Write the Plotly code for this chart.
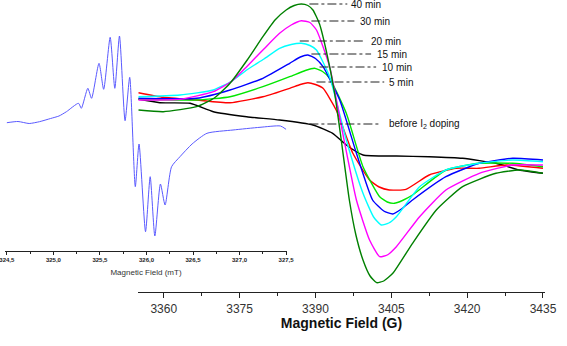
import plotly.graph_objects as go

W, H = 567, 346

# ---------------- data (main spectra, field in G, signal in a.u.) ----------------
x_40 = [3355.0, 3359.9, 3366.5, 3370.0, 3373.1, 3376.5, 3379.6, 3382.0, 3384.2, 3385.8, 3387.2, 3388.5, 3389.5,
        3390.8, 3392.1, 3393.8, 3395.1, 3396.7, 3398.0, 3399.4, 3400.8, 3402.1, 3403.5, 3405.3, 3409.2,
        3413.9, 3419.1, 3425.7, 3430.3, 3435.0]
y_40 = [50, 48.3, 53.3, 62, 76.7, 100, 123.3, 140, 150, 154.5, 156, 154.5, 150,
        136, 110, 66.7, 20, -40, -75, -100, -116, -122.7, -121, -113.3, -83.3,
        -50, -26.7, -13.3, -10, -13.3]

x_30 = [3355.0, 3363.2, 3369.8, 3373.5, 3376.4, 3379.8, 3382.9, 3385.2, 3387.2, 3388.9, 3390.2, 3392.8,
        3395.4, 3398.1, 3400.7, 3402.7, 3404.2, 3406.0, 3410.6, 3415.8, 3422.4, 3429.0, 3435.0]
y_30 = [60, 60.7, 68.3, 79, 93.3, 111, 126.7, 135, 139.3, 137.5, 130, 93.3,
        26.7, -40, -80, -96.7, -95, -86.7, -56.7, -30, -13.3, -5, -5]

x_20 = [3355.0, 3363.2, 3369.8, 3373.5, 3376.4, 3379.8, 3382.9, 3385.2, 3387.2, 3388.9, 3390.2, 3392.8,
        3396.1, 3399.4, 3401.5, 3403.0, 3404.5, 3406.0, 3410.6, 3415.8, 3422.4, 3429.0, 3435.0]
y_20 = [63.3, 65, 70, 79, 90, 101, 111.7, 115.5, 116.7, 114.5, 110, 83.3,
        20, -33.3, -57, -65, -63, -56.7, -26.7, -10, -3.3, 0, -1.7]

x_15 = [3355.0, 3366.5, 3373.1, 3379.6, 3384.9, 3387.0, 3388.5, 3390.0, 3391.5, 3394.8, 3398.1, 3401.3,
        3403.5, 3405.3, 3407.0, 3409.2, 3415.8, 3422.4, 3429.0, 3435.0]
y_15 = [61.7, 61.7, 70, 81.7, 96.7, 103, 105, 101.5, 93.3, 60, 6.7, -40,
        -51, -54, -49, -40, -16.7, -3.3, 1.7, 0]

x_10 = [3355.0, 3366.5, 3373.1, 3379.6, 3384.9, 3388.0, 3389.8, 3391.4, 3392.8, 3396.1, 3399.4, 3402.7,
        3404.2, 3405.6, 3407.2, 3409.2, 3415.8, 3422.4, 3429.0, 3435.0]
y_10 = [60.7, 60, 63.3, 73.3, 83.3, 89.5, 91.7, 88.5, 81.7, 46.7, -6.7, -36.7,
        -42, -43.3, -40.5, -35, -10, -3.3, -3.3, -6.7]

x_5 = [3355.0, 3359.9, 3366.5, 3373.1, 3379.6, 3384.9, 3387.0, 3388.5, 3390.0, 3391.5, 3394.1, 3397.4,
       3400.7, 3402.6, 3404.6, 3407.9, 3412.5, 3417.8, 3422.4, 3427.7, 3435.0]
y_5 = [67.3, 62.7, 60, 57.3, 63.3, 71.7, 75.5, 77.3, 75.5, 71.7, 50, 6.7,
       -20, -27, -30, -29.3, -15, -8.3, -8.3, -5, -8.3]

x_0 = [3355.0, 3359.2, 3365.2, 3369.8, 3376.4, 3382.9, 3389.5, 3393.4, 3396.1, 3399.4, 3406.0,
       3412.5, 3419.1, 3425.7, 3430.3, 3435.0]
y_0 = [61, 57.3, 56.7, 48.3, 43.3, 40, 35, 26.7, 15, 5, 4,
       3.3, 1.7, -3.3, -10, -13.3]

# ---------------- inset spectrum (field in mT) ----------------
x_in = [324.50, 324.62, 324.74, 324.85, 324.97, 325.06, 325.14, 325.27, 325.30, 325.37, 325.41,
        325.49, 325.54, 325.61, 325.66, 325.71, 325.77, 325.82, 325.88, 325.92, 325.99,
        326.04, 326.09, 326.15, 326.20, 326.27, 326.36, 326.49, 326.65, 326.93, 327.22,
        327.44, 327.50]
y_in = [37.3, 38.5, 36.5, 38.3, 41.5, 44.0, 48.3, 56.7, 51.7, 71.7, 61.7,
        96.7, 70.7, 122.7, 71.7, 124, 39.3, 82.7, -26.7, 16, -71.7,
        -16.7, -76, -24, -45, -6.7, 3.3, 16, 26.7, 30, 32.7,
        34, 30.7]

main_ticks = [3360, 3375, 3390, 3405, 3420, 3435]
inset_ticks = [324.5, 325.0, 325.5, 326.0, 326.5, 327.0, 327.5]
inset_ticktext = ["<b>324,5</b>", "<b>325,0</b>", "<b>325,5</b>", "<b>326,0</b>",
                  "<b>326,5</b>", "<b>327,0</b>", "<b>327,5</b>"]

labels = ["40 min", "30 min", "20 min", "15 min", "10 min", "5 min", "before I<sub>2</sub> doping"]
label_y = [156, 139, 119, 106, 93, 78, 36]
lead_x0 = [3388.8, 3389.2, 3386.9, 3389.2, 3390.8, 3390.2, 3388.8]
lead_x1 = [3396.3, 3397.7, 3399.7, 3401.0, 3402.0, 3403.6, 3402.7]
text_x = [3396.7, 3398.5, 3400.5, 3401.7, 3402.7, 3404.2, 3404.2]

fig = go.Figure()

fig.add_trace(go.Scatter(x=x_in, y=y_in, xaxis="x2", yaxis="y2", mode="lines",
                         line=dict(color="#5a5aff", width=1, shape="spline", smoothing=0.6),
                         showlegend=False))

series = [
    (x_0, y_0, "#000000"),
    (x_5, y_5, "#ff0000"),
    (x_10, y_10, "#00e600"),
    (x_15, y_15, "#0000ff"),
    (x_20, y_20, "#00ffff"),
    (x_30, y_30, "#ff00ff"),
    (x_40, y_40, "#008000"),
]
for xs, ys, c in series:
    fig.add_trace(go.Scatter(x=xs, y=ys, xaxis="x", yaxis="y", mode="lines",
                             line=dict(color=c, width=1.4, shape="spline", smoothing=0.5),
                             showlegend=False))

for lab, ly, x0, x1, tx in zip(labels, label_y, lead_x0, lead_x1, text_x):
    fig.add_shape(type="line", xref="x", yref="y", x0=x0, x1=x1, y0=ly, y1=ly,
                  line=dict(color="#222", width=1, dash="dashdot"))
    fig.add_annotation(x=tx, y=ly, xref="x", yref="y", text=lab, showarrow=False,
                       xanchor="left", yanchor="middle",
                       font=dict(family="Liberation Sans, Arial", size=10, color="#111"))

# main axis baseline at 292 px from top, inset axis baseline at 251 px from top
main_bottom = 1 - 292 / H
inset_bottom = 1 - 251 / H

fig.update_layout(
    width=W, height=H,
    margin=dict(l=0, r=0, t=0, b=0),
    paper_bgcolor="white", plot_bgcolor="rgba(0,0,0,0)",
    xaxis=dict(domain=[138 / W, 545 / W], range=[3354.9, 3435.4], anchor="y",
               showgrid=False, zeroline=False, automargin=False, ticklabeloverflow="allow",
               showline=True, linecolor="#222", linewidth=1.2,
               tickmode="array", tickvals=main_ticks, ticks="outside", ticklen=5,
               tickcolor="#222", tickwidth=1,
               minor=dict(dtick=7.5, tick0=3360, ticks="outside", ticklen=3, tickcolor="#222"),
               tickfont=dict(family="Liberation Sans, Arial", size=12, color="#333"),
               title=dict(text="<b>Magnetic Field (G)</b>", standoff=3,
                          font=dict(family="Liberation Sans, Arial", size=14, color="#111"))),
    yaxis=dict(domain=[main_bottom, 1], range=[160 - 292, 160], visible=False, fixedrange=True),
    xaxis2=dict(domain=[5 / W, 287 / W], range=[324.48, 327.51], anchor="y2",
                showgrid=False, zeroline=False, automargin=False, ticklabeloverflow="allow",
                showline=True, linecolor="#222", linewidth=1,
                tickmode="array", tickvals=inset_ticks, ticktext=inset_ticktext,
                ticks="outside", ticklen=3, tickcolor="#222",
                minor=dict(dtick=0.25, tick0=324.5, ticks="outside", ticklen=2, tickcolor="#222"),
                tickfont=dict(family="Liberation Sans, Arial", size=6, color="#222"),
                title=dict(text="Magnetic Field (mT)", standoff=7,
                           font=dict(family="Liberation Sans, Arial", size=8, color="#333"))),
    yaxis2=dict(domain=[inset_bottom, 1], range=[160 - 251, 160], visible=False, fixedrange=True),
)

fig.write_html("out.html")
